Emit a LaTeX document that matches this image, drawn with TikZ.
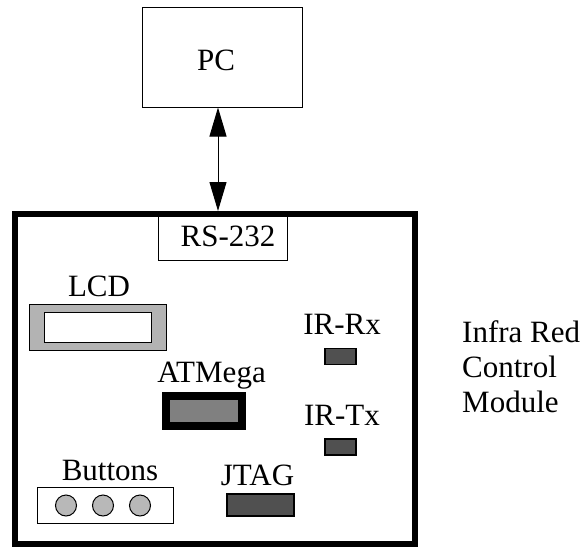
\documentclass[tikz,border=0pt]{standalone}
\usepackage{fontspec}
\setmainfont{Liberation Serif}
\usetikzlibrary{arrows.meta}
\definecolor{lgray}{HTML}{B3B3B3}
\definecolor{mgray}{HTML}{808080}
\definecolor{dgray}{HTML}{505050}
\definecolor{bgray}{HTML}{B8B8B8}
\begin{document}
\begin{tikzpicture}[x=1pt,y=-1pt,
  lbl/.style={anchor=base,inner sep=0pt,font=\fontsize{31}{36}\selectfont},
  box/.style={draw,rectangle,inner sep=0pt},
  chip/.style={box,line width=1.6pt,fill=dgray}]
\path[use as bounding box] (0,0) rectangle (582,547);
% PC
\node[box,line width=1pt,minimum width=160pt,minimum height=100pt] (pc) at (222,57) {};
\node[lbl] (pct) at (216,70) {PC};
% module
\node[box,line width=6pt,minimum width=400.5pt,minimum height=330pt] (mod) at (214.75,379) {};
\node[box,line width=1pt,fill=white,minimum width=129pt,minimum height=44pt] (rs) at (222.5,238.5) {};
\node[lbl] (rst) at (228,246.7) {RS-232};
\draw[line width=1pt,{Triangle[length=29pt,width=17pt]}-{Triangle[length=29pt,width=17pt]}]
  (pc.south -| 218,0) -- (mod.north -| 218,0);
% LCD
\node[lbl] (lcdt) at (99,296.7) {LCD};
\node[box,line width=1.6pt,fill=lgray,minimum width=137pt,minimum height=46pt] (lcd) at (98,327.5) {};
\node[box,line width=1.6pt,fill=white,minimum width=107pt,minimum height=30pt] (lcdi) at (98,327.5) {};
% ATMega
\node[lbl] (atmt) at (211.5,382) {ATMega};
\node[box,line width=8pt,fill=mgray,minimum width=76pt,minimum height=30pt] (atm) at (204,411) {};
% IR
\node[lbl] (rxt) at (342,334) {IR-Rx};
\node[chip,minimum width=31pt,minimum height=16pt] (rx) at (340.5,356.5) {};
\node[lbl] (txt) at (342,425) {IR-Tx};
\node[chip,minimum width=31pt,minimum height=16pt] (tx) at (340.5,447) {};
% Buttons
\node[lbl] (btnt) at (110,480) {Buttons};
\node[box,line width=1.3pt,minimum width=136pt,minimum height=36pt] (btn) at (105.5,505.5) {};
\foreach \i/\x in {1/66,2/103,3/140}
  \node[circle,draw,line width=1pt,fill=bgray,minimum size=21pt,inner sep=0pt] (b\i) at (\x,505.5) {};
% JTAG
\node[lbl] (jtt) at (257.5,485) {JTAG};
\node[chip,minimum width=67pt,minimum height=22pt] (jtag) at (260.5,505) {};
% side text
\node[lbl,anchor=base west] (l1) at (462,342) {Infra Red};
\node[lbl,anchor=base west] (l2) at (462,377) {Control};
\node[lbl,anchor=base west] (l3) at (462,412) {Module};
\end{tikzpicture}
\end{document}
